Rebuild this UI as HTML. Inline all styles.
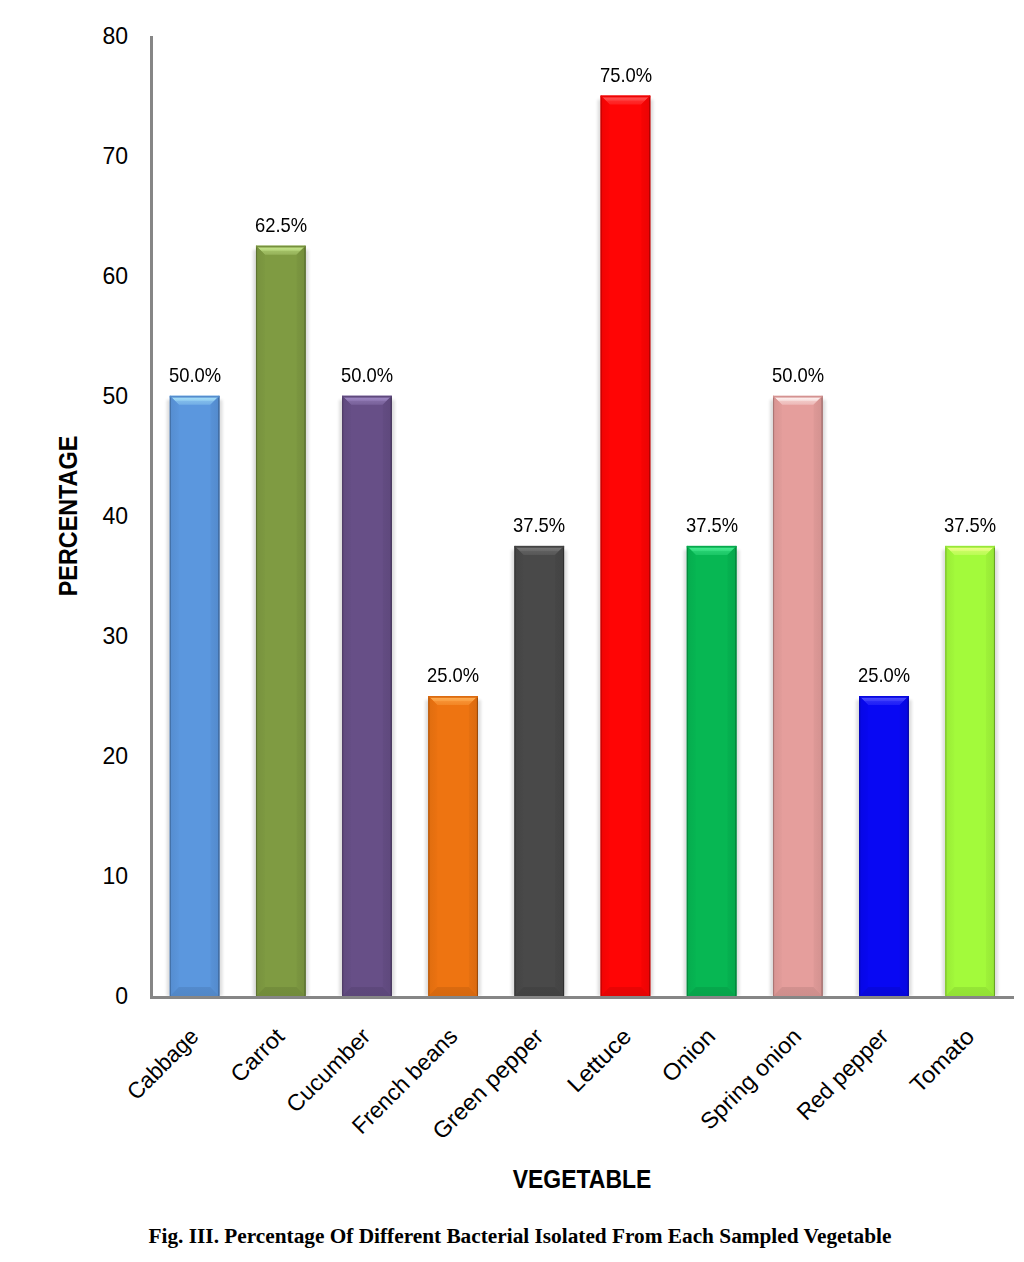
<!DOCTYPE html>
<html><head><meta charset="utf-8"><style>
html,body{margin:0;padding:0;background:#fff;}
body{width:1024px;height:1262px;position:relative;overflow:hidden;font-family:"Liberation Sans",sans-serif;color:#000;}
svg{position:absolute;left:0;top:0;}
.yt{position:absolute;left:60px;width:68px;text-align:right;font-size:23px;line-height:26px;}
.dl{position:absolute;width:80px;text-align:center;font-size:19.8px;line-height:22px;transform:scaleX(0.93);}
.cl{position:absolute;width:300px;text-align:right;font-size:23px;line-height:26px;transform-origin:100% 0;transform:rotate(-45deg);white-space:nowrap;}
.yttl{position:absolute;left:68.2px;top:516.3px;font-weight:bold;font-size:26.4px;line-height:30px;white-space:nowrap;transform:translate(-50%,-50%) rotate(-90deg) scaleX(0.885);}
.xttl{position:absolute;left:582.3px;top:1179.3px;font-weight:bold;font-size:26.4px;line-height:30px;white-space:nowrap;transform:translate(-50%,-50%) scaleX(0.87);}
.cap{position:absolute;left:520px;top:1236.2px;font-family:"Liberation Serif",serif;font-weight:bold;font-size:21.3px;line-height:24px;white-space:nowrap;transform:translate(-50%,-50%);}
</style></head><body>
<svg width="1024" height="1262" viewBox="0 0 1024 1262">
<defs><filter id="sh" x="-20%" y="-5%" width="140%" height="110%"><feGaussianBlur stdDeviation="1.6"/></filter><linearGradient id="gt0" x1="0" y1="0" x2="0" y2="1"><stop offset="0.12" stop-color="#A8E2F9"/><stop offset="0.5" stop-color="#95CFF2"/><stop offset="0.62" stop-color="#7EB9EA"/><stop offset="1" stop-color="#72AEE6"/></linearGradient><linearGradient id="gl0" x1="0" y1="0" x2="1" y2="0"><stop offset="0" stop-color="#558DD0"/><stop offset="1" stop-color="#5A95DB"/></linearGradient><linearGradient id="gr0" x1="0" y1="0" x2="1" y2="0"><stop offset="0" stop-color="#5892D7"/><stop offset="1" stop-color="#538ACC"/></linearGradient><linearGradient id="gb0" x1="0" y1="0" x2="0" y2="1"><stop offset="0" stop-color="#538ACC"/><stop offset="1" stop-color="#5187C7"/></linearGradient><linearGradient id="gt1" x1="0" y1="0" x2="0" y2="1"><stop offset="0.12" stop-color="#C8E88E"/><stop offset="0.5" stop-color="#B6D57B"/><stop offset="0.62" stop-color="#A0BE64"/><stop offset="1" stop-color="#95B259"/></linearGradient><linearGradient id="gl1" x1="0" y1="0" x2="1" y2="0"><stop offset="0" stop-color="#77913E"/><stop offset="1" stop-color="#7D9941"/></linearGradient><linearGradient id="gr1" x1="0" y1="0" x2="1" y2="0"><stop offset="0" stop-color="#7B9640"/><stop offset="1" stop-color="#748E3C"/></linearGradient><linearGradient id="gb1" x1="0" y1="0" x2="0" y2="1"><stop offset="0" stop-color="#748E3C"/><stop offset="1" stop-color="#728B3B"/></linearGradient><linearGradient id="gt2" x1="0" y1="0" x2="0" y2="1"><stop offset="0.12" stop-color="#A08AC6"/><stop offset="0.5" stop-color="#927BB6"/><stop offset="0.62" stop-color="#816AA3"/><stop offset="1" stop-color="#78619A"/></linearGradient><linearGradient id="gl2" x1="0" y1="0" x2="1" y2="0"><stop offset="0" stop-color="#604A7E"/><stop offset="1" stop-color="#654E85"/></linearGradient><linearGradient id="gr2" x1="0" y1="0" x2="1" y2="0"><stop offset="0" stop-color="#634C82"/><stop offset="1" stop-color="#5E487C"/></linearGradient><linearGradient id="gb2" x1="0" y1="0" x2="0" y2="1"><stop offset="0" stop-color="#5E487C"/><stop offset="1" stop-color="#5C4779"/></linearGradient><linearGradient id="gt3" x1="0" y1="0" x2="0" y2="1"><stop offset="0.12" stop-color="#FFB055"/><stop offset="0.5" stop-color="#FBA144"/><stop offset="0.62" stop-color="#F68F30"/><stop offset="1" stop-color="#F38625"/></linearGradient><linearGradient id="gl3" x1="0" y1="0" x2="1" y2="0"><stop offset="0" stop-color="#DF6D0F"/><stop offset="1" stop-color="#EB7210"/></linearGradient><linearGradient id="gr3" x1="0" y1="0" x2="1" y2="0"><stop offset="0" stop-color="#E67010"/><stop offset="1" stop-color="#DA6A0F"/></linearGradient><linearGradient id="gb3" x1="0" y1="0" x2="0" y2="1"><stop offset="0" stop-color="#DA6A0F"/><stop offset="1" stop-color="#D6680F"/></linearGradient><linearGradient id="gt4" x1="0" y1="0" x2="0" y2="1"><stop offset="0.12" stop-color="#787878"/><stop offset="0.5" stop-color="#6C6C6C"/><stop offset="0.62" stop-color="#5E5E5E"/><stop offset="1" stop-color="#575757"/></linearGradient><linearGradient id="gl4" x1="0" y1="0" x2="1" y2="0"><stop offset="0" stop-color="#444444"/><stop offset="1" stop-color="#484848"/></linearGradient><linearGradient id="gr4" x1="0" y1="0" x2="1" y2="0"><stop offset="0" stop-color="#464646"/><stop offset="1" stop-color="#434343"/></linearGradient><linearGradient id="gb4" x1="0" y1="0" x2="0" y2="1"><stop offset="0" stop-color="#434343"/><stop offset="1" stop-color="#414141"/></linearGradient><linearGradient id="gt5" x1="0" y1="0" x2="0" y2="1"><stop offset="0.12" stop-color="#FF5555"/><stop offset="0.5" stop-color="#FF4141"/><stop offset="0.62" stop-color="#FF2929"/><stop offset="1" stop-color="#FF1D1D"/></linearGradient><linearGradient id="gl5" x1="0" y1="0" x2="1" y2="0"><stop offset="0" stop-color="#EF0404"/><stop offset="1" stop-color="#FC0404"/></linearGradient><linearGradient id="gr5" x1="0" y1="0" x2="1" y2="0"><stop offset="0" stop-color="#F70404"/><stop offset="1" stop-color="#EA0404"/></linearGradient><linearGradient id="gb5" x1="0" y1="0" x2="0" y2="1"><stop offset="0" stop-color="#EA0404"/><stop offset="1" stop-color="#E50404"/></linearGradient><linearGradient id="gt6" x1="0" y1="0" x2="0" y2="1"><stop offset="0.12" stop-color="#48EC92"/><stop offset="0.5" stop-color="#38DF82"/><stop offset="0.62" stop-color="#24CF6F"/><stop offset="1" stop-color="#1AC766"/></linearGradient><linearGradient id="gl6" x1="0" y1="0" x2="1" y2="0"><stop offset="0" stop-color="#06AC4E"/><stop offset="1" stop-color="#06B552"/></linearGradient><linearGradient id="gr6" x1="0" y1="0" x2="1" y2="0"><stop offset="0" stop-color="#06B150"/><stop offset="1" stop-color="#06A84C"/></linearGradient><linearGradient id="gb6" x1="0" y1="0" x2="0" y2="1"><stop offset="0" stop-color="#06A84C"/><stop offset="1" stop-color="#06A44A"/></linearGradient><linearGradient id="gt7" x1="0" y1="0" x2="0" y2="1"><stop offset="0.12" stop-color="#FFF6F5"/><stop offset="0.5" stop-color="#F8E0DF"/><stop offset="0.62" stop-color="#F1C6C4"/><stop offset="1" stop-color="#EDB8B7"/></linearGradient><linearGradient id="gl7" x1="0" y1="0" x2="1" y2="0"><stop offset="0" stop-color="#D79492"/><stop offset="1" stop-color="#E29C9A"/></linearGradient><linearGradient id="gr7" x1="0" y1="0" x2="1" y2="0"><stop offset="0" stop-color="#DE9997"/><stop offset="1" stop-color="#D2918F"/></linearGradient><linearGradient id="gb7" x1="0" y1="0" x2="0" y2="1"><stop offset="0" stop-color="#D2918F"/><stop offset="1" stop-color="#CE8E8C"/></linearGradient><linearGradient id="gt8" x1="0" y1="0" x2="0" y2="1"><stop offset="0.12" stop-color="#5050FF"/><stop offset="0.5" stop-color="#3E3EFC"/><stop offset="0.62" stop-color="#2828F8"/><stop offset="1" stop-color="#1E1EF7"/></linearGradient><linearGradient id="gl8" x1="0" y1="0" x2="1" y2="0"><stop offset="0" stop-color="#0707E4"/><stop offset="1" stop-color="#0707F0"/></linearGradient><linearGradient id="gr8" x1="0" y1="0" x2="1" y2="0"><stop offset="0" stop-color="#0707EB"/><stop offset="1" stop-color="#0707DF"/></linearGradient><linearGradient id="gb8" x1="0" y1="0" x2="0" y2="1"><stop offset="0" stop-color="#0707DF"/><stop offset="1" stop-color="#0707DA"/></linearGradient><linearGradient id="gt9" x1="0" y1="0" x2="0" y2="1"><stop offset="0.12" stop-color="#F0FF8E"/><stop offset="0.5" stop-color="#DDFE79"/><stop offset="0.62" stop-color="#C6FC60"/><stop offset="1" stop-color="#BAFC54"/></linearGradient><linearGradient id="gl9" x1="0" y1="0" x2="1" y2="0"><stop offset="0" stop-color="#99EB37"/><stop offset="1" stop-color="#A1F73A"/></linearGradient><linearGradient id="gr9" x1="0" y1="0" x2="1" y2="0"><stop offset="0" stop-color="#9EF239"/><stop offset="1" stop-color="#95E636"/></linearGradient><linearGradient id="gb9" x1="0" y1="0" x2="0" y2="1"><stop offset="0" stop-color="#95E636"/><stop offset="1" stop-color="#92E135"/></linearGradient></defs>
<rect x="166.80" y="399.80" width="55.60" height="596.20" fill="#000" opacity="0.13" filter="url(#sh)"/>
<rect x="169.80" y="395.80" width="49.60" height="600.20" fill="#5B97DE"/>
<polygon points="169.80,395.80 219.40,395.80 210.40,404.80 178.80,404.80" fill="url(#gt0)"/>
<polygon points="169.80,395.80 178.80,404.80 178.80,987.00 169.80,996.00" fill="url(#gl0)"/>
<polygon points="219.40,395.80 210.40,404.80 210.40,987.00 219.40,996.00" fill="url(#gr0)"/>
<polygon points="169.80,996.00 178.80,987.00 210.40,987.00 219.40,996.00" fill="url(#gb0)"/>
<rect x="169.80" y="395.80" width="1.1" height="600.20" fill="#3F699B" opacity="0.8"/>
<rect x="218.40" y="395.80" width="1.0" height="600.20" fill="#32537A" opacity="0.8"/>
<rect x="169.80" y="395.80" width="49.60" height="1.8" fill="#548CCE"/>
<rect x="252.97" y="249.70" width="55.60" height="746.30" fill="#000" opacity="0.13" filter="url(#sh)"/>
<rect x="255.97" y="245.70" width="49.60" height="750.30" fill="#7F9B42"/>
<polygon points="255.97,245.70 305.57,245.70 296.57,254.70 264.97,254.70" fill="url(#gt1)"/>
<polygon points="255.97,245.70 264.97,254.70 264.97,987.00 255.97,996.00" fill="url(#gl1)"/>
<polygon points="305.57,245.70 296.57,254.70 296.57,987.00 305.57,996.00" fill="url(#gr1)"/>
<polygon points="255.97,996.00 264.97,987.00 296.57,987.00 305.57,996.00" fill="url(#gb1)"/>
<rect x="255.97" y="245.70" width="1.1" height="750.30" fill="#586C2E" opacity="0.8"/>
<rect x="304.57" y="245.70" width="1.0" height="750.30" fill="#455524" opacity="0.8"/>
<rect x="255.97" y="245.70" width="49.60" height="1.8" fill="#76903D"/>
<rect x="339.14" y="399.80" width="55.60" height="596.20" fill="#000" opacity="0.13" filter="url(#sh)"/>
<rect x="342.14" y="395.80" width="49.60" height="600.20" fill="#674F87"/>
<polygon points="342.14,395.80 391.74,395.80 382.74,404.80 351.14,404.80" fill="url(#gt2)"/>
<polygon points="342.14,395.80 351.14,404.80 351.14,987.00 342.14,996.00" fill="url(#gl2)"/>
<polygon points="391.74,395.80 382.74,404.80 382.74,987.00 391.74,996.00" fill="url(#gr2)"/>
<polygon points="342.14,996.00 351.14,987.00 382.74,987.00 391.74,996.00" fill="url(#gb2)"/>
<rect x="342.14" y="395.80" width="1.1" height="600.20" fill="#48375E" opacity="0.8"/>
<rect x="390.74" y="395.80" width="1.0" height="600.20" fill="#382B4A" opacity="0.8"/>
<rect x="342.14" y="395.80" width="49.60" height="1.8" fill="#5F497D"/>
<rect x="425.31" y="700.00" width="55.60" height="296.00" fill="#000" opacity="0.13" filter="url(#sh)"/>
<rect x="428.31" y="696.00" width="49.60" height="300.00" fill="#EE7411"/>
<polygon points="428.31,696.00 477.91,696.00 468.91,705.00 437.31,705.00" fill="url(#gt3)"/>
<polygon points="428.31,696.00 437.31,705.00 437.31,987.00 428.31,996.00" fill="url(#gl3)"/>
<polygon points="477.91,696.00 468.91,705.00 468.91,987.00 477.91,996.00" fill="url(#gr3)"/>
<polygon points="428.31,996.00 437.31,987.00 468.91,987.00 477.91,996.00" fill="url(#gb3)"/>
<rect x="428.31" y="696.00" width="1.1" height="300.00" fill="#A6510B" opacity="0.8"/>
<rect x="476.91" y="696.00" width="1.0" height="300.00" fill="#823F09" opacity="0.8"/>
<rect x="428.31" y="696.00" width="49.60" height="1.8" fill="#DD6B0F"/>
<rect x="511.48" y="549.90" width="55.60" height="446.10" fill="#000" opacity="0.13" filter="url(#sh)"/>
<rect x="514.48" y="545.90" width="49.60" height="450.10" fill="#494949"/>
<polygon points="514.48,545.90 564.08,545.90 555.08,554.90 523.48,554.90" fill="url(#gt4)"/>
<polygon points="514.48,545.90 523.48,554.90 523.48,987.00 514.48,996.00" fill="url(#gl4)"/>
<polygon points="564.08,545.90 555.08,554.90 555.08,987.00 564.08,996.00" fill="url(#gr4)"/>
<polygon points="514.48,996.00 523.48,987.00 555.08,987.00 564.08,996.00" fill="url(#gb4)"/>
<rect x="514.48" y="545.90" width="1.1" height="450.10" fill="#333333" opacity="0.8"/>
<rect x="563.08" y="545.90" width="1.0" height="450.10" fill="#282828" opacity="0.8"/>
<rect x="514.48" y="545.90" width="49.60" height="1.8" fill="#434343"/>
<rect x="597.65" y="99.60" width="55.60" height="896.40" fill="#000" opacity="0.13" filter="url(#sh)"/>
<rect x="600.65" y="95.60" width="49.60" height="900.40" fill="#FF0505"/>
<polygon points="600.65,95.60 650.25,95.60 641.25,104.60 609.65,104.60" fill="url(#gt5)"/>
<polygon points="600.65,95.60 609.65,104.60 609.65,987.00 600.65,996.00" fill="url(#gl5)"/>
<polygon points="650.25,95.60 641.25,104.60 641.25,987.00 650.25,996.00" fill="url(#gr5)"/>
<polygon points="600.65,996.00 609.65,987.00 641.25,987.00 650.25,996.00" fill="url(#gb5)"/>
<rect x="600.65" y="95.60" width="1.1" height="900.40" fill="#B20303" opacity="0.8"/>
<rect x="649.25" y="95.60" width="1.0" height="900.40" fill="#8C0202" opacity="0.8"/>
<rect x="600.65" y="95.60" width="49.60" height="1.8" fill="#ED0404"/>
<rect x="683.82" y="549.90" width="55.60" height="446.10" fill="#000" opacity="0.13" filter="url(#sh)"/>
<rect x="686.82" y="545.90" width="49.60" height="450.10" fill="#07B753"/>
<polygon points="686.82,545.90 736.42,545.90 727.42,554.90 695.82,554.90" fill="url(#gt6)"/>
<polygon points="686.82,545.90 695.82,554.90 695.82,987.00 686.82,996.00" fill="url(#gl6)"/>
<polygon points="736.42,545.90 727.42,554.90 727.42,987.00 736.42,996.00" fill="url(#gr6)"/>
<polygon points="686.82,996.00 695.82,987.00 727.42,987.00 736.42,996.00" fill="url(#gb6)"/>
<rect x="686.82" y="545.90" width="1.1" height="450.10" fill="#04803A" opacity="0.8"/>
<rect x="735.42" y="545.90" width="1.0" height="450.10" fill="#03642D" opacity="0.8"/>
<rect x="686.82" y="545.90" width="49.60" height="1.8" fill="#06AA4D"/>
<rect x="769.99" y="399.80" width="55.60" height="596.20" fill="#000" opacity="0.13" filter="url(#sh)"/>
<rect x="772.99" y="395.80" width="49.60" height="600.20" fill="#E59E9C"/>
<polygon points="772.99,395.80 822.59,395.80 813.59,404.80 781.99,404.80" fill="url(#gt7)"/>
<polygon points="772.99,395.80 781.99,404.80 781.99,987.00 772.99,996.00" fill="url(#gl7)"/>
<polygon points="822.59,395.80 813.59,404.80 813.59,987.00 822.59,996.00" fill="url(#gr7)"/>
<polygon points="772.99,996.00 781.99,987.00 813.59,987.00 822.59,996.00" fill="url(#gb7)"/>
<rect x="772.99" y="395.80" width="1.1" height="600.20" fill="#A06E6D" opacity="0.8"/>
<rect x="821.59" y="395.80" width="1.0" height="600.20" fill="#7D5655" opacity="0.8"/>
<rect x="772.99" y="395.80" width="49.60" height="1.8" fill="#D49291"/>
<rect x="856.16" y="700.00" width="55.60" height="296.00" fill="#000" opacity="0.13" filter="url(#sh)"/>
<rect x="859.16" y="696.00" width="49.60" height="300.00" fill="#0808F3"/>
<polygon points="859.16,696.00 908.76,696.00 899.76,705.00 868.16,705.00" fill="url(#gt8)"/>
<polygon points="859.16,696.00 868.16,705.00 868.16,987.00 859.16,996.00" fill="url(#gl8)"/>
<polygon points="908.76,696.00 899.76,705.00 899.76,987.00 908.76,996.00" fill="url(#gr8)"/>
<polygon points="859.16,996.00 868.16,987.00 899.76,987.00 908.76,996.00" fill="url(#gb8)"/>
<rect x="859.16" y="696.00" width="1.1" height="300.00" fill="#0505AA" opacity="0.8"/>
<rect x="907.76" y="696.00" width="1.0" height="300.00" fill="#040485" opacity="0.8"/>
<rect x="859.16" y="696.00" width="49.60" height="1.8" fill="#0707E1"/>
<rect x="942.33" y="549.90" width="55.60" height="446.10" fill="#000" opacity="0.13" filter="url(#sh)"/>
<rect x="945.33" y="545.90" width="49.60" height="450.10" fill="#A3FA3B"/>
<polygon points="945.33,545.90 994.93,545.90 985.93,554.90 954.33,554.90" fill="url(#gt9)"/>
<polygon points="945.33,545.90 954.33,554.90 954.33,987.00 945.33,996.00" fill="url(#gl9)"/>
<polygon points="994.93,545.90 985.93,554.90 985.93,987.00 994.93,996.00" fill="url(#gr9)"/>
<polygon points="945.33,996.00 954.33,987.00 985.93,987.00 994.93,996.00" fill="url(#gb9)"/>
<rect x="945.33" y="545.90" width="1.1" height="450.10" fill="#72AF29" opacity="0.8"/>
<rect x="993.93" y="545.90" width="1.0" height="450.10" fill="#598920" opacity="0.8"/>
<rect x="945.33" y="545.90" width="49.60" height="1.8" fill="#97E836"/>
<rect x="150" y="36" width="3" height="963" fill="#868686"/>
<rect x="150" y="996" width="864" height="3" fill="#868686"/>
</svg>
<div class="yt" style="top:983.2px">0</div>
<div class="yt" style="top:863.1px">10</div>
<div class="yt" style="top:743.0px">20</div>
<div class="yt" style="top:623.0px">30</div>
<div class="yt" style="top:502.9px">40</div>
<div class="yt" style="top:382.8px">50</div>
<div class="yt" style="top:262.7px">60</div>
<div class="yt" style="top:142.6px">70</div>
<div class="yt" style="top:22.6px">80</div>
<div class="dl" style="left:154.6px;top:363.9px">50.0%</div>
<div class="dl" style="left:240.8px;top:213.8px">62.5%</div>
<div class="dl" style="left:326.9px;top:363.9px">50.0%</div>
<div class="dl" style="left:413.1px;top:664.1px">25.0%</div>
<div class="dl" style="left:499.3px;top:514.0px">37.5%</div>
<div class="dl" style="left:585.5px;top:63.7px">75.0%</div>
<div class="dl" style="left:671.6px;top:514.0px">37.5%</div>
<div class="dl" style="left:757.8px;top:363.9px">50.0%</div>
<div class="dl" style="left:844.0px;top:664.1px">25.0%</div>
<div class="dl" style="left:930.1px;top:514.0px">37.5%</div>
<div class="cl" style="left:-114.9px;top:1022.7px;transform:rotate(-45deg) scaleX(0.96)">Cabbage</div>
<div class="cl" style="left:-28.7px;top:1022.7px;transform:rotate(-45deg) scaleX(1.015)">Carrot</div>
<div class="cl" style="left:57.4px;top:1022.7px;transform:rotate(-45deg) scaleX(1.015)">Cucumber</div>
<div class="cl" style="left:143.6px;top:1022.7px;transform:rotate(-45deg) scaleX(0.98)">French beans</div>
<div class="cl" style="left:229.8px;top:1022.7px;transform:rotate(-45deg) scaleX(1.025)">Green pepper</div>
<div class="cl" style="left:317.5px;top:1022.7px;transform:rotate(-45deg) scaleX(1.05)">Lettuce</div>
<div class="cl" style="left:402.1px;top:1022.7px;transform:rotate(-45deg) scaleX(1.05)">Onion</div>
<div class="cl" style="left:488.3px;top:1022.7px;transform:rotate(-45deg) scaleX(1.02)">Spring onion</div>
<div class="cl" style="left:574.5px;top:1022.7px;transform:rotate(-45deg) scaleX(0.985)">Red pepper</div>
<div class="cl" style="left:660.6px;top:1022.7px;transform:rotate(-45deg) scaleX(1.055)">Tomato</div>
<div class="yttl">PERCENTAGE</div>
<div class="xttl">VEGETABLE</div>
<div class="cap">Fig. III. Percentage Of Different Bacterial Isolated From Each Sampled Vegetable</div>
</body></html>
